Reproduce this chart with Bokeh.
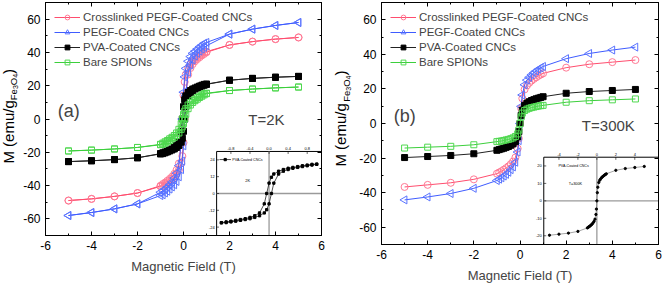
import math
from bokeh.plotting import figure
from bokeh.models import Range1d, FixedTicker, LinearAxis, Legend, LegendItem, Label
from bokeh.layouts import row
from bokeh.core.properties import value
from bokeh.embed import file_html
from bokeh.resources import INLINE

FONT = "Liberation Sans"

# ---------------- data ----------------
SERIES_NAMES = ["Crosslinked PEGF-Coated CNCs", "PEGF-Coated CNCs", "PVA-Coated CNCs", "Bare SPIONs"]

# 2 K : descending branch (from +5 T) and ascending branch (from -5 T)
H2_DESC = [5, 4, 3, 2, 1, 0.9, 0.8, 0.7, 0.6, 0.5, 0.4, 0.3, 0.2, 0.1, 0.05, 0, -0.05,
           -0.1, -0.2, -0.3, -0.4, -0.5, -0.6, -0.7, -0.8, -0.9, -1, -2, -3, -4, -5]
H2_ASC = [-5, -4, -3, -2, -1, -0.9, -0.8, -0.7, -0.6, -0.5, -0.4, -0.3, -0.2, -0.1, -0.05, 0, 0.05,
          0.1, 0.2, 0.3, 0.4, 0.5, 0.6, 0.7, 0.8, 0.9, 1, 2, 3, 4, 5]

CROSS_2K_DESC = [49, 48, 46.5, 44.5, 40.5, 40.1, 39.1, 38.2, 37.1, 36.0, 34.7, 33.0, 30.6, 26.7, 22.3, 14.2, 0,
                 -14.2, -26.7, -30.6, -33.0, -34.7, -36.0, -37.1, -38.2, -39.1, -40.1, -44.5, -46.5, -48, -49]
CROSS_2K_ASC = [-49, -48, -46.5, -44.5, -40.5, -40.1, -39.1, -38.2, -37.1, -36.0, -34.7, -33.0, -30.6, -26.7, -22.3, -14.2, 0,
                14.2, 26.7, 30.6, 33.0, 34.7, 36.0, 37.1, 38.2, 39.1, 40.1, 44.5, 46.5, 48, 49]
PEGF_2K_DESC = [58, 56.2, 54, 51, 46.0, 45.5, 44.4, 43.4, 42.1, 40.8, 39.5, 37.5, 34.7, 30.4, 25.3, 16.1, 0,
                -14.0, -28.0, -32.5, -35.5, -37.8, -39.4, -40.8, -42.0, -43.0, -44.0, -51, -54, -56.2, -58]
PEGF_2K_ASC = [-58, -56.2, -54, -51, -46.0, -45.5, -44.4, -43.4, -42.1, -40.8, -39.5, -37.5, -34.7, -30.4, -25.3, -16.1, 0,
               14.0, 28.0, 32.5, 35.5, 37.8, 39.4, 40.8, 42.0, 43.0, 44.0, 51, 54, 56.2, 58]
PVA_2K_DESC = [25.6, 25.1, 24.4, 23.3, 21.0, 20.8, 20.3, 19.8, 19.2, 18.6, 18.0, 17.1, 15.9, 13.9, 11.6, 7.4, 0,
               -7.4, -13.9, -15.9, -17.1, -18.0, -18.6, -19.2, -19.8, -20.3, -20.8, -23.3, -24.4, -25.1, -25.6]
PVA_2K_ASC = [-25.6, -25.1, -24.4, -23.3, -21.0, -20.8, -20.3, -19.8, -19.2, -18.6, -18.0, -17.1, -15.9, -13.9, -11.6, -7.4, 0,
              7.4, 13.9, 15.9, 17.1, 18.0, 18.6, 19.2, 19.8, 20.3, 20.8, 23.3, 24.4, 25.1, 25.6]
BARE_2K_DESC = [19.2, 18.7, 18.0, 17.1, 15.5, 15.2, 14.5, 13.7, 12.9, 11.9, 11.0, 9.9, 8.4, 6.2, 4.7, 2.8, 0,
                -2.8, -6.2, -8.4, -9.9, -11.0, -11.9, -12.9, -13.7, -14.5, -15.2, -17.1, -18.0, -18.7, -19.2]
BARE_2K_ASC = [-19.2, -18.7, -18.0, -17.1, -15.5, -15.2, -14.5, -13.7, -12.9, -11.9, -11.0, -9.9, -8.4, -6.2, -4.7, -2.8, 0,
               2.8, 6.2, 8.4, 9.9, 11.0, 11.9, 12.9, 13.7, 14.5, 15.2, 17.1, 18.0, 18.7, 19.2]

# 300 K : no visible hysteresis
H300 = [-5, -4, -3, -2, -1, -0.9, -0.8, -0.7, -0.6, -0.5, -0.4, -0.3, -0.2, -0.1, -0.05, 0, 0.05,
        0.1, 0.2, 0.3, 0.4, 0.5, 0.6, 0.7, 0.8, 0.9, 1, 2, 3, 4, 5]
CROSS_300K = [-36.7, -35.5, -34.3, -32.3, -29.0, -28.3, -27.6, -26.7, -25.8, -24.8, -23.5, -22.0, -19.7, -14.5, -8.7, 0,
              8.7, 14.5, 19.7, 22.0, 23.5, 24.8, 25.8, 26.7, 27.6, 28.3, 29.0, 32.3, 34.3, 35.5, 36.7]
PEGF_300K = [-44.2, -42.5, -40.5, -37.5, -33.0, -32.2, -31.4, -30.4, -29.4, -28.2, -26.7, -25.1, -22.4, -16.5, -9.9, 0,
             9.9, 16.5, 22.4, 25.1, 26.7, 28.2, 29.4, 30.4, 31.4, 32.2, 33.0, 37.5, 40.5, 42.5, 44.2]
PVA_300K = [-19.7, -19.1, -18.5, -17.5, -15.5, -15.1, -14.7, -14.3, -13.8, -13.3, -12.6, -11.8, -10.5, -7.8, -4.7, 0,
            4.7, 7.8, 10.5, 11.8, 12.6, 13.3, 13.8, 14.3, 14.7, 15.1, 15.5, 17.5, 18.5, 19.1, 19.7]
BARE_300K = [-14.2, -13.7, -13.2, -12.3, -10.5, -10.3, -10.1, -9.8, -9.5, -9.2, -8.8, -8.3, -7.5, -6.0, -3.8, 0,
             3.8, 6.0, 7.5, 8.3, 8.8, 9.2, 9.5, 9.8, 10.1, 10.3, 10.5, 12.3, 13.2, 13.7, 14.2]

# ticks
X_TICKS = [-6, -4, -2, 0, 2, 4, 6]
X_MINOR = [-5, -3, -1, 1, 3, 5]
Y_TICKS = [-60, -40, -20, 0, 20, 40, 60]
Y_MINOR = [-70, -50, -30, -10, 10, 30, 50, 70]
INSET_A_XTICKS = [-0.8, -0.4, 0.0, 0.4, 0.8]
INSET_A_XLABELS = ["-0.8", "-0.4", "0.0", "0.4", "0.8"]
INSET_A_YTICKS = [24, 12, 0, -12, -24]
INSET_A_YLABELS = ["24", "12", "0", "-12", "-24"]
INSET_B_XTICKS = [-4, -2, 0, 2, 4]
INSET_B_XLABELS = ["-4", "-2", "0", "2", "4"]
INSET_B_YTICKS = [20, 10, 0, -10, -20]
INSET_B_YLABELS = ["20", "10", "0", "-10", "-20"]

# styles
STYLES = [
    dict(line="#ff4d6e", marker="circle", mcol="#ff7a95", fill=None, size=7, angle=0),
    dict(line="#3f5cff", marker="triangle", mcol="#5a74ff", fill=None, size=8, angle=math.pi / 2),
    dict(line="#222222", marker="square", mcol="#000000", fill="#000000", size=6, angle=0),
    dict(line="#3ccf3c", marker="square", mcol="#4fd84f", fill=None, size=6, angle=0),
]


def style_axis(ax, ticks, labels=True):
    ax.axis_line_color = "black"
    ax.axis_line_width = 1
    ax.major_tick_in = 4
    ax.major_tick_out = 0
    ax.minor_tick_in = 2
    ax.minor_tick_out = 0
    ax.major_tick_line_color = "black"
    ax.minor_tick_line_color = "black"
    if labels:
        ax.major_label_text_font = FONT
        ax.major_label_text_font_size = "12px"
        ax.major_label_text_color = "black"
        ax.major_label_standoff = 5
        ax.major_label_overrides = {t: str(t) for t in ticks}
    else:
        ax.major_label_text_font_size = "1px"
        ax.major_label_text_color = None
        ax.major_label_text_alpha = 0
        ax.major_label_standoff = 0


def make_panel(width, left, right, bottom, series_x, series_y, tag, tag_xy, temp, temp_xy):
    p = figure(width=width, height=285, x_range=Range1d(-6, 6), y_range=Range1d(-70, 70),
               output_backend="svg", toolbar_location=None,
               min_border_left=left, min_border_right=right, min_border_top=2, min_border_bottom=bottom)
    p.xgrid.grid_line_color = None
    p.ygrid.grid_line_color = None
    p.outline_line_color = "black"
    p.outline_line_width = 1
    p.background_fill_color = "white"
    p.border_fill_color = "white"

    p.xaxis.ticker = FixedTicker(ticks=X_TICKS, minor_ticks=X_MINOR)
    p.yaxis.ticker = FixedTicker(ticks=Y_TICKS, minor_ticks=Y_MINOR)
    style_axis(p.xaxis[0], X_TICKS)
    style_axis(p.yaxis[0], Y_TICKS)
    p.xaxis.axis_label = "Magnetic Field (T)"
    p.xaxis.axis_label_text_font = FONT
    p.xaxis.axis_label_text_font_size = "13px"
    p.xaxis.axis_label_text_font_style = "normal"
    p.xaxis.axis_label_standoff = 6
    top = LinearAxis(ticker=FixedTicker(ticks=X_TICKS, minor_ticks=X_MINOR))
    style_axis(top, X_TICKS, labels=False)
    p.add_layout(top, "above")
    rgt = LinearAxis(ticker=FixedTicker(ticks=Y_TICKS, minor_ticks=Y_MINOR))
    style_axis(rgt, Y_TICKS, labels=False)
    p.add_layout(rgt, "right")

    items = []
    for name, xs, ys, st in zip(SERIES_NAMES, series_x, series_y, STYLES):
        lr = p.line(xs, ys, line_color=st["line"], line_width=1)
        sr = p.scatter(xs, ys, marker=st["marker"], size=st["size"], angle=st["angle"],
                       line_color=st["mcol"], line_width=1,
                       fill_color=st["fill"] if st["fill"] else "white",
                       fill_alpha=1 if st["fill"] else 0)
        items.append(LegendItem(label=name, renderers=[lr, sr]))
    leg = Legend(items=items, location="top_left", margin=4, padding=5, spacing=3,
                 label_height=12, glyph_height=12, glyph_width=26, label_standoff=3,
                 label_text_font=FONT, label_text_font_size="11.5px",
                 background_fill_alpha=0, border_line_alpha=0)
    p.add_layout(leg)

    p.add_layout(Label(x=tag_xy[0], y=tag_xy[1], text=tag, text_font=FONT, text_font_size="18px",
                       text_align="left", text_baseline="middle"))
    p.add_layout(Label(x=temp_xy[0], y=temp_xy[1], text=temp, text_font=FONT, text_font_size="15px",
                       text_align="left", text_baseline="middle"))
    return p


def make_ylabel(width, bottom, xs, ys):
    """Narrow figure carrying the rotated y-axis title M (emu/g_Fe3O4); its y range matches the panel."""
    f = figure(width=width, height=285, x_range=Range1d(0, width), y_range=Range1d(-70, 70),
               output_backend="svg", toolbar_location=None, x_axis_location=None, y_axis_location=None,
               min_border_left=0, min_border_right=0, min_border_top=2, min_border_bottom=bottom)
    f.outline_line_color = None
    f.xgrid.grid_line_color = None
    f.ygrid.grid_line_color = None
    texts = ["M (emu/g", "Fe", "3", "O", "4", ")"]
    sizes = ["15px", "9.5px", "7px", "9.5px", "7px", "15px"]
    for t, s, x, y in zip(texts, sizes, xs, ys):
        f.text(x=[x], y=[y], text=[t], angle=math.pi / 2, text_font=value(FONT),
               text_font_size=value(s), text_align="left", text_baseline="middle", text_color="black")
    return f


# ---------------- panel (a) ----------------
loop_x = H2_DESC + H2_ASC
pa = make_panel(313, 23, 12, 50,
                [loop_x] * 4,
                [CROSS_2K_DESC + CROSS_2K_ASC, PEGF_2K_DESC + PEGF_2K_ASC,
                 PVA_2K_DESC + PVA_2K_ASC, BARE_2K_DESC + BARE_2K_ASC],
                "(a)", (-5.47, 5.1), "T=2K", (2.82, -0.3))
la = make_ylabel(20, 50, [7.5, 13.3, 14.6, 13.3, 14.6, 7.5], [-26.8, 11.3, 18.0, 20.3, 24.8, 27.1])

ia = pa.subplot(x_source=Range1d(-1.1, 1.1), y_source=Range1d(-30, 30),
                x_target=Range1d(1.44, 6), y_target=Range1d(-70, -19.5))
ia.quad(left=[-1.1], right=[1.1], bottom=[-30], top=[30], fill_color="white", line_color="black", line_width=1)
ia.segment(x0=[-1.1, 0], y0=[0, -30], x1=[1.1, 0], y1=[0, 30], line_color="#9a9a9a", line_width=1.3)
ia.segment(x0=INSET_A_XTICKS, y0=[30] * 5, x1=INSET_A_XTICKS, y1=[28.2] * 5, line_color="black", line_width=0.6)
ia.segment(x0=[-1.1] * 5, y0=INSET_A_YTICKS, x1=[-1.05] * 5, y1=INSET_A_YTICKS, line_color="black", line_width=0.6)
ia.text(x=INSET_A_XTICKS, y=[31.1] * 5, text=INSET_A_XLABELS, text_font=value(FONT),
        text_font_size=value("4px"), text_align="center", text_baseline="bottom")
ia.text(x=[-1.142] * 5, y=INSET_A_YTICKS, text=INSET_A_YLABELS, text_font=value(FONT),
        text_font_size=value("4px"), text_align="right", text_baseline="middle")
# inset shows only the low-field part (-1 T .. 1 T) of the PVA loop
ins_x = H2_DESC[4:27] + H2_ASC[4:27]
ins_y = PVA_2K_DESC[4:27] + PVA_2K_ASC[4:27]
ia.line(ins_x, ins_y, line_color="black", line_width=0.7)
ia.scatter(ins_x, ins_y, marker="square", size=2.3, line_color="black", fill_color="black")
ia.segment(x0=[-1.04], y0=[24.2], x1=[-0.80], y1=[24.2], line_color="black", line_width=0.7)
ia.scatter([-0.92], [24.2], marker="square", size=2.3, line_color="black", fill_color="black")
ia.text(x=[-0.77], y=[24.2], text=["PVA-Coated CNCs"], text_font=value(FONT),
        text_font_size=value("3.6px"), text_align="left", text_baseline="middle")
ia.text(x=[-0.45], y=[9], text=["2K"], text_font=value(FONT),
        text_font_size=value("4px"), text_align="center", text_baseline="middle")

# ---------------- panel (b) ----------------
pb = make_panel(308, 26, 5, 41,
                [H300] * 4,
                [CROSS_300K, PEGF_300K, PVA_300K, BARE_300K],
                "(b)", (-5.47, 4.6), "T=300K", (2.68, -1.1))
lb = make_ylabel(22, 41, [7.3, 13.3, 14.6, 13.3, 14.6, 7.3], [-24.9, 12.6, 19.0, 21.2, 25.5, 27.8])

ib = pb.subplot(x_source=Range1d(-5.6, 6.5), y_source=Range1d(-25, 25),
                x_target=Range1d(1.03, 6), y_target=Range1d(-70, -19.5))
ib.quad(left=[-5.6], right=[6.5], bottom=[-25], top=[25], fill_color="white", line_color="black", line_width=1)
ib.segment(x0=[-5.6, 0], y0=[0, -25], x1=[6.5, 0], y1=[0, 25], line_color="#9a9a9a", line_width=1.3)
ib.segment(x0=INSET_B_XTICKS, y0=[25] * 5, x1=INSET_B_XTICKS, y1=[23.5] * 5, line_color="black", line_width=0.6)
ib.segment(x0=[-5.6] * 5, y0=INSET_B_YTICKS, x1=[-5.34] * 5, y1=INSET_B_YTICKS, line_color="black", line_width=0.6)
ib.text(x=INSET_B_XTICKS, y=[25.9] * 5, text=INSET_B_XLABELS, text_font=value(FONT),
        text_font_size=value("4px"), text_align="center", text_baseline="bottom")
ib.text(x=[-5.81] * 5, y=INSET_B_YTICKS, text=INSET_B_YLABELS, text_font=value(FONT),
        text_font_size=value("4px"), text_align="right", text_baseline="middle")
ib.line(H300, PVA_300K, line_color="#808080", line_width=0.7)
ib.scatter(H300, PVA_300K, marker="circle", size=2.3, line_color="black", fill_color="black")
ib.text(x=[-4.05], y=[20.2], text=["PVA-Coated CNCs"], text_font=value(FONT),
        text_font_size=value("3.6px"), text_align="left", text_baseline="middle")
ib.text(x=[-2.97], y=[9.8], text=["T=300K"], text_font=value(FONT),
        text_font_size=value("3.8px"), text_align="left", text_baseline="middle")

layout = row(row(la, pa), row(lb, pb))
open("out.html", "w").write(file_html(layout, INLINE))
